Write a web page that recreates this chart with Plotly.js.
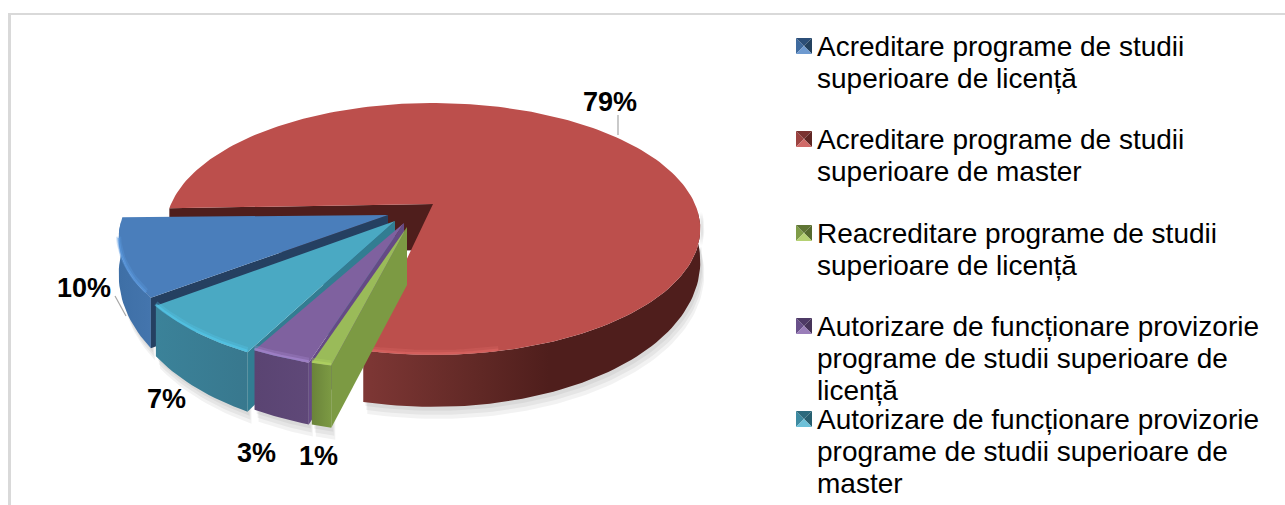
<!DOCTYPE html>
<html><head><meta charset="utf-8">
<script src="https://cdn.plot.ly/plotly-3.0.1.min.js"></script>
<style>html,body{margin:0;padding:0;background:#fff;overflow:hidden}#c{width:1285px;height:505px}</style>
</head><body><div id="c"></div>
<script>
// ---- data ----
var categories = [
  "Acreditare programe de studii<br>superioare de licență",
  "Acreditare programe de studii<br>superioare de master",
  "Reacreditare programe de studii<br>superioare de licență",
  "Autorizare de funcționare provizorie<br>programe de studii superioare de<br>licență",
  "Autorizare de funcționare provizorie<br>programe de studii superioare de<br>master"
];
var values = [10, 79, 1, 3, 7];
var firstSliceAngle = 232;

// ---- styles ----
var topColors  = ["#4a7ebb", "#bc4f4c", "#9abb59", "#7f619f", "#4aa9c3"];
var rimColors  = ["#5c9ae0", "#dc6663", "#b4d663", "#a98ad2", "#55c8ea"];
var faceColors = ["#254061", "#4f1e1c", "#7c9a43", "#654a85", "#327d92"];
var wallScales = [
  [[0, "#3e6fa6"], [1, "#4475ad"]],
  [[0, "#7e3735"], [0.35, "#602825"], [0.55, "#4f1e1c"], [1, "#4f1e1c"]],
  [[0, "#6a833a"], [1, "#7c9a43"]],
  [[0, "#5a4472"], [1, "#5f4878"]],
  [[0, "#3b8299"], [1, "#38788e"]]
];
var iconShades = [
  ["#3f6b9f", "#2c4f78", "#24425f", "#6e9ad0"],
  ["#9c4341", "#7a3230", "#5f2624", "#d06a68"],
  ["#7f9c48", "#5f7534", "#566a2f", "#b5d173"],
  ["#69508a", "#4e3a66", "#463459", "#9a7eb9"],
  ["#3d8ba2", "#2c6a7d", "#275f70", "#6cc0d8"]
];
var apexOffset = [[-45, 11], [0, 0], [-26, 23], [-29, 19], [-38, 17]];
var rimOffset  = [[-47, 9], [0, 0], [-32, 15], [-35, 15], [-42, 17]];
var apexDepth  = [46, 46, 58, 55, 50];
var wallBase   = [30, 28, 30, 30, 30];
var wallGrow   = [33, 24, 33, 33, 33];
var labelPos = [[84, 288], [610, 102], [318, 456], [256, 453], [166, 399]];
var legendIconY = [46, 139, 233, 326, 419];
var legendLineGap = 32;

// ---- projection of the tilted disc ----
var CX = 433, CY = 204, A = 262, B = 121, K = 0.198;
function proj(deg, off, i) {
  var r = deg * Math.PI / 180, u = Math.sin(r), v = -Math.cos(r), w = 1 - K * v;
  return {x: CX + A * u / w + off[0], y: CY + B * v / w + off[1], h: wallBase[i] + wallGrow[i] * v, v: v};
}
function arc(a0, a1, off, i) {
  var pts = [], n = Math.max(2, Math.ceil(Math.abs(a1 - a0) / 1.5));
  for (var k = 0; k <= n; k++) pts.push(proj(a0 + (a1 - a0) * k / n, off, i));
  return pts;
}
function poly(pts, color, name, extra) {
  var t = {type: "scatter", mode: "lines", x: pts.map(function (p) { return p[0]; }),
    y: pts.map(function (p) { return p[1]; }), fill: "toself", fillcolor: color,
    line: {width: 0, color: color}, hoverinfo: "skip", showlegend: false, name: name};
  for (var k in extra) t[k] = extra[k];
  return t;
}
function rimLine(pts, color, width, opacity, name) {
  return {type: "scatter", mode: "lines", x: pts.map(function (p) { return p.x; }),
    y: pts.map(function (p) { return p.y - width / 2; }), line: {color: color, width: width},
    opacity: opacity, hoverinfo: "skip", showlegend: false, name: name};
}
var total = values.reduce(function (a, b) { return a + b; }, 0);
var slices = [], acc = firstSliceAngle;
values.forEach(function (val, i) {
  var sweep = val / total * 360;
  slices.push({i: i, a0: acc, a1: acc + sweep});
  acc += sweep;
});

var shadow = [], layers = {};
slices.forEach(function (s) {
  var i = s.i, name = categories[i].replace(/<br>/g, " "), parts = [];
  var apex = [CX + apexOffset[i][0], CY + apexOffset[i][1]];
  var all = arc(s.a0, s.a1, rimOffset[i], i);
  var vis = all.filter(function (p) { return p.v > 0.05; });
  var wall = vis.map(function (p) { return [p.x, p.y]; })
    .concat(vis.slice().reverse().map(function (p) { return [p.x, p.y + p.h]; }));
  [[2, 4], [3, 8], [4, 12]].forEach(function (d) {
    shadow.push(poly(vis.map(function (p) { return [p.x + d[0], p.y + p.h + d[1]]; })
      .concat(vis.slice().reverse().map(function (p) { return [p.x + d[0], p.y]; })),
      "rgba(0,0,0,0.05)", name + " shadow"));
  });
  var first = all[0];
  if (i === 1) {
    parts.push(poly([[first.x, first.y], apex, [apex[0], apex[1] + apexDepth[i]], [first.x, first.y + apexDepth[i]]], faceColors[i], name + " face"));
  }
  parts.push(poly(wall, "#888", name + " wall", {fillgradient: {type: "horizontal", colorscale: wallScales[i]}}));
  if (i !== 1) {
    parts.push(poly([apex, [first.x, first.y], [first.x, first.y + first.h], [apex[0], apex[1] + apexDepth[i]]], faceColors[i], name + " face"));
  }
  parts.push(poly([apex].concat(all.map(function (p) { return [p.x, p.y]; })), topColors[i], name));
  // soft bevel along the near rim
  var rim = i === 1 ? arc(s.a1 - 24, s.a1, rimOffset[i], i) : i === 0 ? arc(s.a0 + 2, s.a1 - 10, rimOffset[i], i) : all;
  parts.push(rimLine(rim, rimColors[i], 5, 0.3, name + " bevel"));
  parts.push(rimLine(rim, rimColors[i], 2.5, 0.6, name + " rim"));
  layers[i] = parts;
});
// draw order: red at the back, then blue, teal, purple, green
var traces = shadow.slice();
[1, 0, 4, 3, 2].forEach(function (i) { traces = traces.concat(layers[i]); });

var annotations = [], shapes = [];
values.forEach(function (val, i) {
  annotations.push({x: labelPos[i][0], y: labelPos[i][1], xref: "x", yref: "y", text: "<b>" + val + "%</b>",
    showarrow: false, xanchor: "center", yanchor: "middle",
    font: {family: "Liberation Sans, Arial, sans-serif", size: 27, color: "#000"}});
});
categories.forEach(function (c, i) {
  c.split("<br>").forEach(function (ln, j) {
    annotations.push({x: 817, y: legendIconY[i] + j * legendLineGap, xref: "x", yref: "y", text: ln,
      showarrow: false, xanchor: "left", yanchor: "middle", xshift: -2,
      font: {family: "Liberation Sans, Arial, sans-serif", size: 28, color: "#000"}});
  });
  var x0 = 796, x1 = 812, y0 = legendIconY[i] - 8, y1 = legendIconY[i] + 8, mx = 804, my = legendIconY[i], sh = iconShades[i];
  [[x0, y0, x0, y1, sh[0]], [x0, y0, x1, y0, sh[1]], [x1, y0, x1, y1, sh[2]], [x0, y1, x1, y1, sh[3]]].forEach(function (t) {
    shapes.push({type: "path", xref: "x", yref: "y", path: "M" + t[0] + "," + t[1] + "L" + t[2] + "," + t[3] + "L" + mx + "," + my + "Z",
      fillcolor: t[4], line: {width: 0}});
  });
});
// chart frame and leader lines
shapes.push({type: "line", xref: "x", yref: "y", x0: 8, x1: 1285, y0: 14, y1: 14, line: {color: "#d9d9d9", width: 2}});
shapes.push({type: "line", xref: "x", yref: "y", x0: 9.5, x1: 9.5, y0: 13, y1: 505, line: {color: "#d9d9d9", width: 3}});
shapes.push({type: "line", xref: "x", yref: "y", x0: 618, x1: 618, y0: 115, y1: 135, line: {color: "#a6a6a6", width: 1.2}});
shapes.push({type: "line", xref: "x", yref: "y", x0: 115, x1: 126, y0: 296, y1: 316, line: {color: "#a6a6a6", width: 1.2}});

Plotly.newPlot("c", traces, {
  width: 1285, height: 505, margin: {l: 0, r: 0, t: 0, b: 0},
  paper_bgcolor: "#fff", plot_bgcolor: "#fff", showlegend: false,
  xaxis: {range: [0, 1285], visible: false, fixedrange: true},
  yaxis: {range: [505, 0], visible: false, fixedrange: true},
  annotations: annotations, shapes: shapes
}, {displayModeBar: false, staticPlot: true});
</script></body></html>
